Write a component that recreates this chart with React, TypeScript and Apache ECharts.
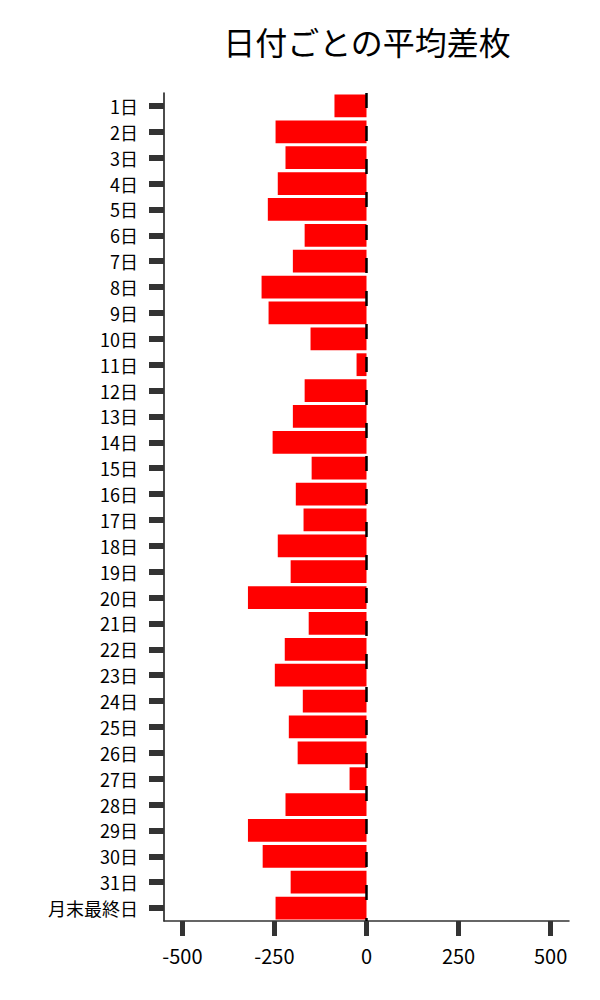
import React, { useEffect, useRef } from 'react';
import * as echarts from 'echarts';

const dayLabels = [
  '1日', '2日', '3日', '4日', '5日', '6日', '7日', '8日', '9日', '10日',
  '11日', '12日', '13日', '14日', '15日', '16日', '17日', '18日', '19日', '20日',
  '21日', '22日', '23日', '24日', '25日', '26日', '27日', '28日', '29日', '30日',
  '31日', '月末最終日'
];

const avgDiff = [
  -87, -247, -220, -241, -268, -168, -200, -285, -266, -152,
  -27, -168, -200, -255, -149, -192, -171, -241, -206, -322,
  -157, -222, -249, -173, -211, -187, -46, -220, -322, -282,
  -206, -247
];

const xTicks = [-500, -250, 0, 250, 500];

const FONT = '"Noto Sans CJK JP", "Noto Sans", sans-serif';

const App: React.FC = () => {
  const chartRef = useRef<HTMLDivElement>(null);

  useEffect(() => {
    if (!chartRef.current) return;
    const chart = echarts.init(chartRef.current, undefined, { renderer: 'svg' });

    const option = {
      animation: false,
      backgroundColor: '#fff',
      title: {
        text: '日付ごとの平均差枚',
        left: 362,
        textAlign: 'center',
        top: 20,
        textStyle: { fontFamily: FONT, fontSize: 32, fontWeight: 'normal', color: '#000' }
      },
      grid: { left: 164, right: 31, top: 93, bottom: 79 },
      xAxis: {
        type: 'value',
        min: -550,
        max: 550,
        splitLine: { show: false },
        axisLine: { show: true, onZero: false, lineStyle: { color: '#333', width: 1.5 } },
        axisTick: {
          show: true,
          length: 15,
          customValues: xTicks,
          lineStyle: { color: '#333', width: 5 }
        },
        axisLabel: {
          customValues: xTicks,
          margin: 24,
          fontFamily: FONT,
          fontSize: 20,
          color: '#000'
        }
      },
      yAxis: {
        type: 'category',
        inverse: true,
        data: dayLabels,
        axisLine: { show: true, onZero: false, lineStyle: { color: '#111', width: 1.5 } },
        axisTick: {
          show: true,
          interval: 0,
          alignWithLabel: true,
          length: 15,
          lineStyle: { color: '#333', width: 6 }
        },
        axisLabel: {
          interval: 0,
          margin: 26,
          fontFamily: FONT,
          fontSize: 18,
          lineHeight: 18,
          color: '#000'
        }
      },
      series: [
        {
          type: 'scatter',
          data: [],
          z: 1,
          silent: true,
          markLine: {
            symbol: 'none',
            silent: true,
            label: { show: false },
            lineStyle: { color: '#000', width: 2.5, type: [15, 18] },
            data: [{ xAxis: 0 }]
          }
        },
        {
          type: 'bar',
          data: avgDiff,
          barWidth: '88%',
          z: 2,
          itemStyle: { color: '#ff0000' }
        }
      ]
    };

    chart.setOption(option);
    return () => {
      chart.dispose();
    };
  }, []);

  return (
    <div
      ref={chartRef}
      style={{ position: 'absolute', left: 0, top: 0, width: 600, height: 1000 }}
    />
  );
};

export default App;
